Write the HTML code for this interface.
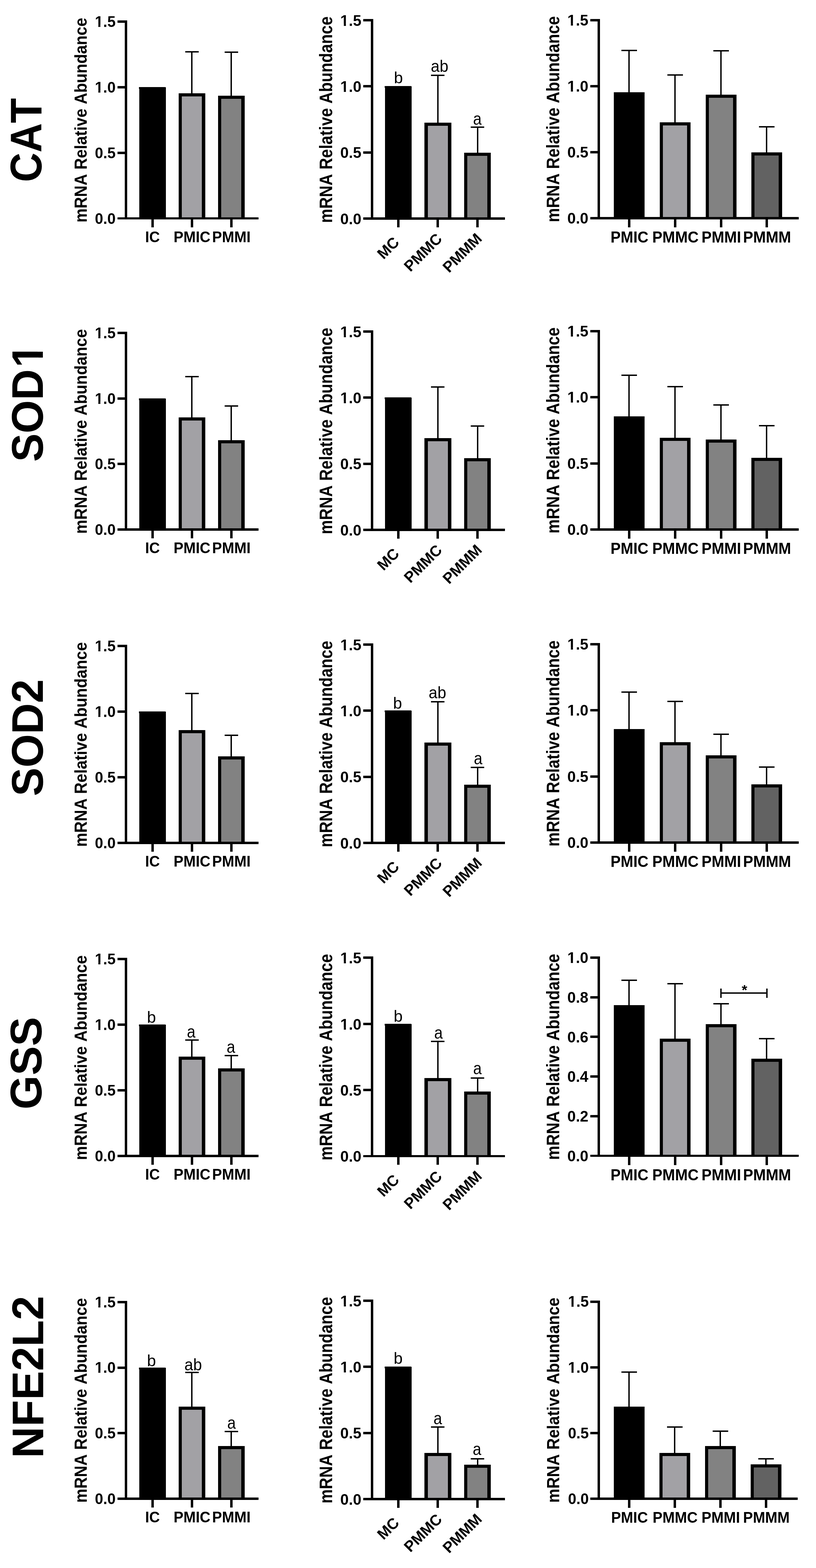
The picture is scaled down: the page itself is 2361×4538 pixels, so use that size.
<!DOCTYPE html>
<html lang="en">
<head>
<meta charset="utf-8">
<title>mRNA Relative Abundance</title>
<style>
html,body{margin:0;padding:0;background:#fff;}
body{width:2361px;height:4538px;overflow:hidden;}
svg{display:block;font-family:"Liberation Sans",sans-serif;fill:#000;font-kerning:none;}
</style>
</head>
<body>
<svg width="2361" height="4538" viewBox="0 0 2361 4538" shape-rendering="crispEdges">
<rect x="0" y="0" width="2361" height="4538" fill="#ffffff"/>
<g>
<rect x="403" y="253" width="77" height="380" fill="#000"/>
<rect x="402" y="252" width="77" height="5" fill="#000"/>
<rect x="553" y="150" width="4" height="122" fill="#000"/>
<rect x="536" y="148" width="39" height="4" fill="#000"/>
<rect x="517" y="270" width="77" height="363" fill="#000"/>
<rect x="526" y="279" width="58" height="354" fill="#a2a1a5"/>
<rect x="667" y="151" width="4" height="128" fill="#000"/>
<rect x="650" y="149" width="39" height="4" fill="#000"/>
<rect x="631" y="277" width="77" height="356" fill="#000"/>
<rect x="640" y="286" width="58" height="347" fill="#828282"/>
<rect x="361" y="59" width="7" height="576" fill="#000"/>
<rect x="340" y="629" width="408" height="6" fill="#000"/>
<rect x="438" y="633" width="7" height="25" fill="#000"/>
<rect x="552" y="633" width="7" height="25" fill="#000"/>
<rect x="666" y="633" width="7" height="25" fill="#000"/>
<text transform="translate(334.5 647.9) scale(0.976 1)" font-size="44.3" font-weight="bold" text-anchor="end">0.0</text>
<rect x="340" y="439" width="25" height="7" fill="#000"/>
<text transform="translate(334.5 457.9) scale(0.976 1)" font-size="44.3" font-weight="bold" text-anchor="end">0.5</text>
<rect x="340" y="249" width="25" height="7" fill="#000"/>
<text transform="translate(334.5 267.9) scale(0.976 1)" font-size="44.3" font-weight="bold" text-anchor="end">1.0</text>
<g transform="translate(334.5 267.9) scale(0.976 1)" fill="#fff" shape-rendering="geometricPrecision"><rect x="-60.79" y="-5.92" width="9.55" height="7.92"/><rect x="-45.17" y="-5.92" width="8.99" height="7.92"/></g>
<rect x="340" y="59" width="25" height="7" fill="#000"/>
<text transform="translate(334.5 77.9) scale(0.976 1)" font-size="44.3" font-weight="bold" text-anchor="end">1.5</text>
<g transform="translate(334.5 77.9) scale(0.976 1)" fill="#fff" shape-rendering="geometricPrecision"><rect x="-60.79" y="-5.92" width="9.55" height="7.92"/><rect x="-45.17" y="-5.92" width="8.99" height="7.92"/></g>
<text transform="translate(441.2 700.7) scale(0.962 1)" font-size="44.3" font-weight="bold" text-anchor="middle">IC</text>
<text transform="translate(555.5 700.7) scale(0.962 1)" font-size="44.3" font-weight="bold" text-anchor="middle">PMIC</text>
<text transform="translate(669.4 700.7) scale(0.962 1)" font-size="44.3" font-weight="bold" text-anchor="middle">PMMI</text>
<text transform="translate(251.2 347.8) rotate(-90) scale(0.927 1)" font-size="49.6" font-weight="bold" text-anchor="middle">mRNA Relative Abundance</text>
</g>
<g>
<rect x="1114" y="250" width="77" height="383" fill="#000"/>
<rect x="1113" y="249" width="77" height="5" fill="#000"/>
<rect x="1265" y="218" width="4" height="139" fill="#000"/>
<rect x="1247" y="216" width="39" height="4" fill="#000"/>
<rect x="1228" y="355" width="78" height="278" fill="#000"/>
<rect x="1238" y="364" width="58" height="269" fill="#a2a1a5"/>
<rect x="1380" y="368" width="4" height="76" fill="#000"/>
<rect x="1362" y="366" width="39" height="4" fill="#000"/>
<rect x="1343" y="442" width="77" height="191" fill="#000"/>
<rect x="1352" y="451" width="58" height="182" fill="#828282"/>
<rect x="1073" y="55" width="7" height="581" fill="#000"/>
<rect x="1051" y="629" width="410" height="7" fill="#000"/>
<rect x="1149" y="633" width="7" height="25" fill="#000"/>
<rect x="1263" y="633" width="7" height="25" fill="#000"/>
<rect x="1378" y="633" width="7" height="25" fill="#000"/>
<text transform="translate(1045.6 648.8) scale(0.976 1)" font-size="44.96" font-weight="bold" text-anchor="end">0.0</text>
<rect x="1051" y="438" width="25" height="7" fill="#000"/>
<text transform="translate(1045.6 457.47) scale(0.976 1)" font-size="44.96" font-weight="bold" text-anchor="end">0.5</text>
<rect x="1051" y="246" width="25" height="7" fill="#000"/>
<text transform="translate(1045.6 266.13) scale(0.976 1)" font-size="44.96" font-weight="bold" text-anchor="end">1.0</text>
<g transform="translate(1045.6 266.13) scale(0.976 1)" fill="#fff" shape-rendering="geometricPrecision"><rect x="-61.67" y="-5.99" width="9.66" height="7.99"/><rect x="-45.84" y="-5.99" width="9.09" height="7.99"/></g>
<rect x="1051" y="55" width="25" height="7" fill="#000"/>
<text transform="translate(1045.6 74.8) scale(0.976 1)" font-size="44.96" font-weight="bold" text-anchor="end">1.5</text>
<g transform="translate(1045.6 74.8) scale(0.976 1)" fill="#fff" shape-rendering="geometricPrecision"><rect x="-61.67" y="-5.99" width="9.66" height="7.99"/><rect x="-45.84" y="-5.99" width="9.09" height="7.99"/></g>
<text transform="translate(1157.9 704.1) rotate(-45) scale(0.986 1)" font-size="44.3" font-weight="bold" text-anchor="end">MC</text>
<text transform="translate(1281.7 694) rotate(-45) scale(0.986 1)" font-size="44.3" font-weight="bold" text-anchor="end">PMMC</text>
<text transform="translate(1397 693.4) rotate(-45) scale(0.986 1)" font-size="44.3" font-weight="bold" text-anchor="end">PMMM</text>
<text transform="translate(961.2 346.3) rotate(-90) scale(0.9077 1)" font-size="51.1" font-weight="bold" text-anchor="middle">mRNA Relative Abundance</text>
<text transform="translate(1152.8 241.3) scale(1 1)" font-size="46.8" font-weight="normal" text-anchor="middle">b</text>
<text transform="translate(1271.9 207.5) scale(0.95 1)" font-size="48" font-weight="normal" text-anchor="middle">ab</text>
<text transform="translate(1381.2 361.3) scale(0.9 1)" font-size="49.5" font-weight="normal" text-anchor="middle">a</text>
</g>
<g>
<rect x="1818" y="146" width="4" height="123" fill="#000"/>
<rect x="1798" y="144" width="45" height="4" fill="#000"/>
<rect x="1776" y="268" width="89" height="364" fill="#000"/>
<rect x="1776" y="267" width="89" height="5" fill="#000"/>
<rect x="1951" y="217" width="4" height="139" fill="#000"/>
<rect x="1931" y="215" width="45" height="4" fill="#000"/>
<rect x="1909" y="354" width="89" height="278" fill="#000"/>
<rect x="1918" y="363" width="70" height="269" fill="#a2a1a5"/>
<rect x="2084" y="147" width="4" height="129" fill="#000"/>
<rect x="2064" y="145" width="45" height="4" fill="#000"/>
<rect x="2042" y="274" width="89" height="358" fill="#000"/>
<rect x="2051" y="283" width="70" height="349" fill="#828282"/>
<rect x="2216" y="367" width="4" height="76" fill="#000"/>
<rect x="2196" y="365" width="45" height="4" fill="#000"/>
<rect x="2174" y="441" width="89" height="191" fill="#000"/>
<rect x="2183" y="450" width="70" height="182" fill="#626262"/>
<rect x="1729" y="55" width="7" height="580" fill="#000"/>
<rect x="1708" y="628" width="603" height="7" fill="#000"/>
<rect x="1817" y="632" width="7" height="26" fill="#000"/>
<rect x="1950" y="632" width="7" height="26" fill="#000"/>
<rect x="2083" y="632" width="7" height="26" fill="#000"/>
<rect x="2215" y="632" width="7" height="26" fill="#000"/>
<text transform="translate(1702.5 647.1) scale(0.976 1)" font-size="44.96" font-weight="bold" text-anchor="end">0.0</text>
<rect x="1708" y="437" width="25" height="7" fill="#000"/>
<text transform="translate(1702.5 455.93) scale(0.976 1)" font-size="44.96" font-weight="bold" text-anchor="end">0.5</text>
<rect x="1708" y="246" width="25" height="7" fill="#000"/>
<text transform="translate(1702.5 264.77) scale(0.976 1)" font-size="44.96" font-weight="bold" text-anchor="end">1.0</text>
<g transform="translate(1702.5 264.77) scale(0.976 1)" fill="#fff" shape-rendering="geometricPrecision"><rect x="-61.67" y="-5.99" width="9.66" height="7.99"/><rect x="-45.84" y="-5.99" width="9.09" height="7.99"/></g>
<rect x="1708" y="55" width="25" height="7" fill="#000"/>
<text transform="translate(1702.5 73.6) scale(0.976 1)" font-size="44.96" font-weight="bold" text-anchor="end">1.5</text>
<g transform="translate(1702.5 73.6) scale(0.976 1)" fill="#fff" shape-rendering="geometricPrecision"><rect x="-61.67" y="-5.99" width="9.66" height="7.99"/><rect x="-45.84" y="-5.99" width="9.09" height="7.99"/></g>
<text transform="translate(1821.4 702.2) scale(0.962 1)" font-size="45.63" font-weight="bold" text-anchor="middle">PMIC</text>
<text transform="translate(1954.4 702.2) scale(0.962 1)" font-size="45.63" font-weight="bold" text-anchor="middle">PMMC</text>
<text transform="translate(2087 702.2) scale(0.962 1)" font-size="45.63" font-weight="bold" text-anchor="middle">PMMI</text>
<text transform="translate(2219.4 702.2) scale(0.962 1)" font-size="45.63" font-weight="bold" text-anchor="middle">PMMM</text>
<text transform="translate(1618.1 345) rotate(-90) scale(0.9074 1)" font-size="51" font-weight="bold" text-anchor="middle">mRNA Relative Abundance</text>
</g>
<g>
<rect x="403" y="1154" width="77" height="379" fill="#000"/>
<rect x="402" y="1153" width="77" height="5" fill="#000"/>
<rect x="553" y="1090" width="4" height="120" fill="#000"/>
<rect x="536" y="1088" width="39" height="4" fill="#000"/>
<rect x="517" y="1208" width="77" height="325" fill="#000"/>
<rect x="526" y="1217" width="58" height="316" fill="#a2a1a5"/>
<rect x="667" y="1175" width="4" height="101" fill="#000"/>
<rect x="650" y="1173" width="39" height="4" fill="#000"/>
<rect x="631" y="1274" width="77" height="259" fill="#000"/>
<rect x="640" y="1283" width="58" height="250" fill="#828282"/>
<rect x="361" y="960" width="7" height="576" fill="#000"/>
<rect x="340" y="1529" width="408" height="7" fill="#000"/>
<rect x="438" y="1533" width="7" height="25" fill="#000"/>
<rect x="552" y="1533" width="7" height="25" fill="#000"/>
<rect x="666" y="1533" width="7" height="25" fill="#000"/>
<text transform="translate(334.5 1547.9) scale(0.976 1)" font-size="44.3" font-weight="bold" text-anchor="end">0.0</text>
<rect x="340" y="1339" width="25" height="7" fill="#000"/>
<text transform="translate(334.5 1358.23) scale(0.976 1)" font-size="44.3" font-weight="bold" text-anchor="end">0.5</text>
<rect x="340" y="1150" width="25" height="7" fill="#000"/>
<text transform="translate(334.5 1168.57) scale(0.976 1)" font-size="44.3" font-weight="bold" text-anchor="end">1.0</text>
<g transform="translate(334.5 1168.57) scale(0.976 1)" fill="#fff" shape-rendering="geometricPrecision"><rect x="-60.79" y="-5.92" width="9.55" height="7.92"/><rect x="-45.17" y="-5.92" width="8.99" height="7.92"/></g>
<rect x="340" y="960" width="25" height="7" fill="#000"/>
<text transform="translate(334.5 978.9) scale(0.976 1)" font-size="44.3" font-weight="bold" text-anchor="end">1.5</text>
<g transform="translate(334.5 978.9) scale(0.976 1)" fill="#fff" shape-rendering="geometricPrecision"><rect x="-60.79" y="-5.92" width="9.55" height="7.92"/><rect x="-45.17" y="-5.92" width="8.99" height="7.92"/></g>
<text transform="translate(441.2 1600.7) scale(0.962 1)" font-size="44.3" font-weight="bold" text-anchor="middle">IC</text>
<text transform="translate(555.5 1600.7) scale(0.962 1)" font-size="44.3" font-weight="bold" text-anchor="middle">PMIC</text>
<text transform="translate(669.4 1600.7) scale(0.962 1)" font-size="44.3" font-weight="bold" text-anchor="middle">PMMI</text>
<text transform="translate(251.2 1248.8) rotate(-90) scale(0.927 1)" font-size="49.6" font-weight="bold" text-anchor="middle">mRNA Relative Abundance</text>
</g>
<g>
<rect x="1114" y="1151" width="77" height="383" fill="#000"/>
<rect x="1113" y="1150" width="77" height="5" fill="#000"/>
<rect x="1265" y="1120" width="4" height="150" fill="#000"/>
<rect x="1247" y="1118" width="39" height="4" fill="#000"/>
<rect x="1228" y="1268" width="78" height="266" fill="#000"/>
<rect x="1238" y="1277" width="58" height="257" fill="#a2a1a5"/>
<rect x="1380" y="1233" width="4" height="95" fill="#000"/>
<rect x="1362" y="1231" width="39" height="4" fill="#000"/>
<rect x="1343" y="1326" width="77" height="208" fill="#000"/>
<rect x="1352" y="1335" width="58" height="199" fill="#828282"/>
<rect x="1073" y="956" width="7" height="581" fill="#000"/>
<rect x="1051" y="1530" width="410" height="7" fill="#000"/>
<rect x="1149" y="1534" width="7" height="25" fill="#000"/>
<rect x="1263" y="1534" width="7" height="25" fill="#000"/>
<rect x="1378" y="1534" width="7" height="25" fill="#000"/>
<text transform="translate(1045.6 1549.8) scale(0.976 1)" font-size="44.96" font-weight="bold" text-anchor="end">0.0</text>
<rect x="1051" y="1339" width="25" height="7" fill="#000"/>
<text transform="translate(1045.6 1358.47) scale(0.976 1)" font-size="44.96" font-weight="bold" text-anchor="end">0.5</text>
<rect x="1051" y="1147" width="25" height="7" fill="#000"/>
<text transform="translate(1045.6 1167.13) scale(0.976 1)" font-size="44.96" font-weight="bold" text-anchor="end">1.0</text>
<g transform="translate(1045.6 1167.13) scale(0.976 1)" fill="#fff" shape-rendering="geometricPrecision"><rect x="-61.67" y="-5.99" width="9.66" height="7.99"/><rect x="-45.84" y="-5.99" width="9.09" height="7.99"/></g>
<rect x="1051" y="956" width="25" height="7" fill="#000"/>
<text transform="translate(1045.6 975.8) scale(0.976 1)" font-size="44.96" font-weight="bold" text-anchor="end">1.5</text>
<g transform="translate(1045.6 975.8) scale(0.976 1)" fill="#fff" shape-rendering="geometricPrecision"><rect x="-61.67" y="-5.99" width="9.66" height="7.99"/><rect x="-45.84" y="-5.99" width="9.09" height="7.99"/></g>
<text transform="translate(1157.9 1605.1) rotate(-45) scale(0.986 1)" font-size="44.3" font-weight="bold" text-anchor="end">MC</text>
<text transform="translate(1281.7 1595) rotate(-45) scale(0.986 1)" font-size="44.3" font-weight="bold" text-anchor="end">PMMC</text>
<text transform="translate(1397 1594.4) rotate(-45) scale(0.986 1)" font-size="44.3" font-weight="bold" text-anchor="end">PMMM</text>
<text transform="translate(961.2 1247.3) rotate(-90) scale(0.9077 1)" font-size="51.1" font-weight="bold" text-anchor="middle">mRNA Relative Abundance</text>
</g>
<g>
<rect x="1818" y="1086" width="4" height="121" fill="#000"/>
<rect x="1798" y="1084" width="45" height="4" fill="#000"/>
<rect x="1776" y="1206" width="89" height="327" fill="#000"/>
<rect x="1776" y="1205" width="89" height="5" fill="#000"/>
<rect x="1951" y="1119" width="4" height="150" fill="#000"/>
<rect x="1931" y="1117" width="45" height="4" fill="#000"/>
<rect x="1909" y="1267" width="89" height="266" fill="#000"/>
<rect x="1918" y="1276" width="70" height="257" fill="#a2a1a5"/>
<rect x="2084" y="1172" width="4" height="102" fill="#000"/>
<rect x="2064" y="1170" width="45" height="4" fill="#000"/>
<rect x="2042" y="1272" width="89" height="261" fill="#000"/>
<rect x="2051" y="1281" width="70" height="252" fill="#828282"/>
<rect x="2216" y="1232" width="4" height="95" fill="#000"/>
<rect x="2196" y="1230" width="45" height="4" fill="#000"/>
<rect x="2174" y="1325" width="89" height="208" fill="#000"/>
<rect x="2183" y="1334" width="70" height="199" fill="#626262"/>
<rect x="1729" y="955" width="7" height="581" fill="#000"/>
<rect x="1708" y="1529" width="603" height="7" fill="#000"/>
<rect x="1817" y="1533" width="7" height="26" fill="#000"/>
<rect x="1950" y="1533" width="7" height="26" fill="#000"/>
<rect x="2083" y="1533" width="7" height="26" fill="#000"/>
<rect x="2215" y="1533" width="7" height="26" fill="#000"/>
<text transform="translate(1702.5 1548.1) scale(0.976 1)" font-size="44.96" font-weight="bold" text-anchor="end">0.0</text>
<rect x="1708" y="1338" width="25" height="7" fill="#000"/>
<text transform="translate(1702.5 1356.77) scale(0.976 1)" font-size="44.96" font-weight="bold" text-anchor="end">0.5</text>
<rect x="1708" y="1146" width="25" height="7" fill="#000"/>
<text transform="translate(1702.5 1165.43) scale(0.976 1)" font-size="44.96" font-weight="bold" text-anchor="end">1.0</text>
<g transform="translate(1702.5 1165.43) scale(0.976 1)" fill="#fff" shape-rendering="geometricPrecision"><rect x="-61.67" y="-5.99" width="9.66" height="7.99"/><rect x="-45.84" y="-5.99" width="9.09" height="7.99"/></g>
<rect x="1708" y="955" width="25" height="7" fill="#000"/>
<text transform="translate(1702.5 974.1) scale(0.976 1)" font-size="44.96" font-weight="bold" text-anchor="end">1.5</text>
<g transform="translate(1702.5 974.1) scale(0.976 1)" fill="#fff" shape-rendering="geometricPrecision"><rect x="-61.67" y="-5.99" width="9.66" height="7.99"/><rect x="-45.84" y="-5.99" width="9.09" height="7.99"/></g>
<text transform="translate(1821.4 1603.2) scale(0.962 1)" font-size="45.63" font-weight="bold" text-anchor="middle">PMIC</text>
<text transform="translate(1954.4 1603.2) scale(0.962 1)" font-size="45.63" font-weight="bold" text-anchor="middle">PMMC</text>
<text transform="translate(2087 1603.2) scale(0.962 1)" font-size="45.63" font-weight="bold" text-anchor="middle">PMMI</text>
<text transform="translate(2219.4 1603.2) scale(0.962 1)" font-size="45.63" font-weight="bold" text-anchor="middle">PMMM</text>
<text transform="translate(1618.1 1245.75) rotate(-90) scale(0.9074 1)" font-size="51" font-weight="bold" text-anchor="middle">mRNA Relative Abundance</text>
</g>
<g>
<rect x="403" y="2060" width="77" height="380" fill="#000"/>
<rect x="402" y="2059" width="77" height="5" fill="#000"/>
<rect x="553" y="2007" width="4" height="108" fill="#000"/>
<rect x="536" y="2005" width="39" height="4" fill="#000"/>
<rect x="517" y="2113" width="77" height="327" fill="#000"/>
<rect x="526" y="2122" width="58" height="318" fill="#a2a1a5"/>
<rect x="667" y="2128" width="4" height="63" fill="#000"/>
<rect x="650" y="2126" width="39" height="4" fill="#000"/>
<rect x="631" y="2189" width="77" height="251" fill="#000"/>
<rect x="640" y="2198" width="58" height="242" fill="#828282"/>
<rect x="361" y="1866" width="7" height="577" fill="#000"/>
<rect x="340" y="2436" width="408" height="7" fill="#000"/>
<rect x="438" y="2440" width="7" height="25" fill="#000"/>
<rect x="552" y="2440" width="7" height="25" fill="#000"/>
<rect x="666" y="2440" width="7" height="25" fill="#000"/>
<text transform="translate(334.5 2454.9) scale(0.976 1)" font-size="44.3" font-weight="bold" text-anchor="end">0.0</text>
<rect x="340" y="2246" width="25" height="7" fill="#000"/>
<text transform="translate(334.5 2264.9) scale(0.976 1)" font-size="44.3" font-weight="bold" text-anchor="end">0.5</text>
<rect x="340" y="2056" width="25" height="7" fill="#000"/>
<text transform="translate(334.5 2074.9) scale(0.976 1)" font-size="44.3" font-weight="bold" text-anchor="end">1.0</text>
<g transform="translate(334.5 2074.9) scale(0.976 1)" fill="#fff" shape-rendering="geometricPrecision"><rect x="-60.79" y="-5.92" width="9.55" height="7.92"/><rect x="-45.17" y="-5.92" width="8.99" height="7.92"/></g>
<rect x="340" y="1866" width="25" height="7" fill="#000"/>
<text transform="translate(334.5 1884.9) scale(0.976 1)" font-size="44.3" font-weight="bold" text-anchor="end">1.5</text>
<g transform="translate(334.5 1884.9) scale(0.976 1)" fill="#fff" shape-rendering="geometricPrecision"><rect x="-60.79" y="-5.92" width="9.55" height="7.92"/><rect x="-45.17" y="-5.92" width="8.99" height="7.92"/></g>
<text transform="translate(441.2 2507.7) scale(0.962 1)" font-size="44.3" font-weight="bold" text-anchor="middle">IC</text>
<text transform="translate(555.5 2507.7) scale(0.962 1)" font-size="44.3" font-weight="bold" text-anchor="middle">PMIC</text>
<text transform="translate(669.4 2507.7) scale(0.962 1)" font-size="44.3" font-weight="bold" text-anchor="middle">PMMI</text>
<text transform="translate(251.2 2154.8) rotate(-90) scale(0.927 1)" font-size="49.6" font-weight="bold" text-anchor="middle">mRNA Relative Abundance</text>
</g>
<g>
<rect x="1114" y="2057" width="77" height="383" fill="#000"/>
<rect x="1113" y="2056" width="77" height="5" fill="#000"/>
<rect x="1265" y="2031" width="4" height="120" fill="#000"/>
<rect x="1247" y="2029" width="39" height="4" fill="#000"/>
<rect x="1228" y="2149" width="78" height="291" fill="#000"/>
<rect x="1238" y="2158" width="58" height="282" fill="#a2a1a5"/>
<rect x="1380" y="2221" width="4" height="52" fill="#000"/>
<rect x="1362" y="2219" width="39" height="4" fill="#000"/>
<rect x="1343" y="2271" width="77" height="169" fill="#000"/>
<rect x="1352" y="2280" width="58" height="160" fill="#828282"/>
<rect x="1073" y="1862" width="7" height="581" fill="#000"/>
<rect x="1051" y="2436" width="410" height="7" fill="#000"/>
<rect x="1149" y="2440" width="7" height="25" fill="#000"/>
<rect x="1263" y="2440" width="7" height="25" fill="#000"/>
<rect x="1378" y="2440" width="7" height="25" fill="#000"/>
<text transform="translate(1045.6 2455.8) scale(0.976 1)" font-size="44.96" font-weight="bold" text-anchor="end">0.0</text>
<rect x="1051" y="2245" width="25" height="7" fill="#000"/>
<text transform="translate(1045.6 2264.47) scale(0.976 1)" font-size="44.96" font-weight="bold" text-anchor="end">0.5</text>
<rect x="1051" y="2053" width="25" height="7" fill="#000"/>
<text transform="translate(1045.6 2073.13) scale(0.976 1)" font-size="44.96" font-weight="bold" text-anchor="end">1.0</text>
<g transform="translate(1045.6 2073.13) scale(0.976 1)" fill="#fff" shape-rendering="geometricPrecision"><rect x="-61.67" y="-5.99" width="9.66" height="7.99"/><rect x="-45.84" y="-5.99" width="9.09" height="7.99"/></g>
<rect x="1051" y="1862" width="25" height="7" fill="#000"/>
<text transform="translate(1045.6 1881.8) scale(0.976 1)" font-size="44.96" font-weight="bold" text-anchor="end">1.5</text>
<g transform="translate(1045.6 1881.8) scale(0.976 1)" fill="#fff" shape-rendering="geometricPrecision"><rect x="-61.67" y="-5.99" width="9.66" height="7.99"/><rect x="-45.84" y="-5.99" width="9.09" height="7.99"/></g>
<text transform="translate(1157.9 2511.1) rotate(-45) scale(0.986 1)" font-size="44.3" font-weight="bold" text-anchor="end">MC</text>
<text transform="translate(1281.7 2501) rotate(-45) scale(0.986 1)" font-size="44.3" font-weight="bold" text-anchor="end">PMMC</text>
<text transform="translate(1397 2500.4) rotate(-45) scale(0.986 1)" font-size="44.3" font-weight="bold" text-anchor="end">PMMM</text>
<text transform="translate(961.2 2153.3) rotate(-90) scale(0.9077 1)" font-size="51.1" font-weight="bold" text-anchor="middle">mRNA Relative Abundance</text>
<text transform="translate(1150.3 2051.1) scale(1 1)" font-size="46.8" font-weight="normal" text-anchor="middle">b</text>
<text transform="translate(1265.7 2020.5) scale(0.95 1)" font-size="48" font-weight="normal" text-anchor="middle">ab</text>
<text transform="translate(1383.3 2211.5) scale(0.9 1)" font-size="49.5" font-weight="normal" text-anchor="middle">a</text>
</g>
<g>
<rect x="1818" y="2003" width="4" height="109" fill="#000"/>
<rect x="1798" y="2001" width="45" height="4" fill="#000"/>
<rect x="1776" y="2111" width="89" height="328" fill="#000"/>
<rect x="1776" y="2110" width="89" height="5" fill="#000"/>
<rect x="1951" y="2030" width="4" height="120" fill="#000"/>
<rect x="1931" y="2028" width="45" height="4" fill="#000"/>
<rect x="1909" y="2148" width="89" height="291" fill="#000"/>
<rect x="1918" y="2157" width="70" height="282" fill="#a2a1a5"/>
<rect x="2084" y="2125" width="4" height="63" fill="#000"/>
<rect x="2064" y="2123" width="45" height="4" fill="#000"/>
<rect x="2042" y="2186" width="89" height="253" fill="#000"/>
<rect x="2051" y="2195" width="70" height="244" fill="#828282"/>
<rect x="2216" y="2220" width="4" height="52" fill="#000"/>
<rect x="2196" y="2218" width="45" height="4" fill="#000"/>
<rect x="2174" y="2270" width="89" height="169" fill="#000"/>
<rect x="2183" y="2279" width="70" height="160" fill="#626262"/>
<rect x="1729" y="1861" width="7" height="581" fill="#000"/>
<rect x="1708" y="2435" width="603" height="7" fill="#000"/>
<rect x="1817" y="2439" width="7" height="26" fill="#000"/>
<rect x="1950" y="2439" width="7" height="26" fill="#000"/>
<rect x="2083" y="2439" width="7" height="26" fill="#000"/>
<rect x="2215" y="2439" width="7" height="26" fill="#000"/>
<text transform="translate(1702.5 2454.1) scale(0.976 1)" font-size="44.96" font-weight="bold" text-anchor="end">0.0</text>
<rect x="1708" y="2244" width="25" height="7" fill="#000"/>
<text transform="translate(1702.5 2262.77) scale(0.976 1)" font-size="44.96" font-weight="bold" text-anchor="end">0.5</text>
<rect x="1708" y="2052" width="25" height="7" fill="#000"/>
<text transform="translate(1702.5 2071.43) scale(0.976 1)" font-size="44.96" font-weight="bold" text-anchor="end">1.0</text>
<g transform="translate(1702.5 2071.43) scale(0.976 1)" fill="#fff" shape-rendering="geometricPrecision"><rect x="-61.67" y="-5.99" width="9.66" height="7.99"/><rect x="-45.84" y="-5.99" width="9.09" height="7.99"/></g>
<rect x="1708" y="1861" width="25" height="7" fill="#000"/>
<text transform="translate(1702.5 1880.1) scale(0.976 1)" font-size="44.96" font-weight="bold" text-anchor="end">1.5</text>
<g transform="translate(1702.5 1880.1) scale(0.976 1)" fill="#fff" shape-rendering="geometricPrecision"><rect x="-61.67" y="-5.99" width="9.66" height="7.99"/><rect x="-45.84" y="-5.99" width="9.09" height="7.99"/></g>
<text transform="translate(1821.4 2509.2) scale(0.962 1)" font-size="45.63" font-weight="bold" text-anchor="middle">PMIC</text>
<text transform="translate(1954.4 2509.2) scale(0.962 1)" font-size="45.63" font-weight="bold" text-anchor="middle">PMMC</text>
<text transform="translate(2087 2509.2) scale(0.962 1)" font-size="45.63" font-weight="bold" text-anchor="middle">PMMI</text>
<text transform="translate(2219.4 2509.2) scale(0.962 1)" font-size="45.63" font-weight="bold" text-anchor="middle">PMMM</text>
<text transform="translate(1618.1 2151.75) rotate(-90) scale(0.9074 1)" font-size="51" font-weight="bold" text-anchor="middle">mRNA Relative Abundance</text>
</g>
<g>
<rect x="403" y="2966" width="77" height="380" fill="#000"/>
<rect x="402" y="2965" width="77" height="5" fill="#000"/>
<rect x="553" y="3010" width="4" height="50" fill="#000"/>
<rect x="536" y="3008" width="39" height="4" fill="#000"/>
<rect x="517" y="3058" width="77" height="288" fill="#000"/>
<rect x="526" y="3067" width="58" height="279" fill="#a2a1a5"/>
<rect x="667" y="3055" width="4" height="39" fill="#000"/>
<rect x="650" y="3053" width="39" height="4" fill="#000"/>
<rect x="631" y="3092" width="77" height="254" fill="#000"/>
<rect x="640" y="3101" width="58" height="245" fill="#828282"/>
<rect x="361" y="2772" width="7" height="577" fill="#000"/>
<rect x="340" y="3342" width="408" height="7" fill="#000"/>
<rect x="438" y="3346" width="7" height="25" fill="#000"/>
<rect x="552" y="3346" width="7" height="25" fill="#000"/>
<rect x="666" y="3346" width="7" height="25" fill="#000"/>
<text transform="translate(334.5 3361.2) scale(0.976 1)" font-size="44.3" font-weight="bold" text-anchor="end">0.0</text>
<rect x="340" y="3152" width="25" height="7" fill="#000"/>
<text transform="translate(334.5 3171.2) scale(0.976 1)" font-size="44.3" font-weight="bold" text-anchor="end">0.5</text>
<rect x="340" y="2962" width="25" height="7" fill="#000"/>
<text transform="translate(334.5 2981.2) scale(0.976 1)" font-size="44.3" font-weight="bold" text-anchor="end">1.0</text>
<g transform="translate(334.5 2981.2) scale(0.976 1)" fill="#fff" shape-rendering="geometricPrecision"><rect x="-60.79" y="-5.92" width="9.55" height="7.92"/><rect x="-45.17" y="-5.92" width="8.99" height="7.92"/></g>
<rect x="340" y="2772" width="25" height="7" fill="#000"/>
<text transform="translate(334.5 2791.2) scale(0.976 1)" font-size="44.3" font-weight="bold" text-anchor="end">1.5</text>
<g transform="translate(334.5 2791.2) scale(0.976 1)" fill="#fff" shape-rendering="geometricPrecision"><rect x="-60.79" y="-5.92" width="9.55" height="7.92"/><rect x="-45.17" y="-5.92" width="8.99" height="7.92"/></g>
<text transform="translate(441.2 3414) scale(0.962 1)" font-size="44.3" font-weight="bold" text-anchor="middle">IC</text>
<text transform="translate(555.5 3414) scale(0.962 1)" font-size="44.3" font-weight="bold" text-anchor="middle">PMIC</text>
<text transform="translate(669.4 3414) scale(0.962 1)" font-size="44.3" font-weight="bold" text-anchor="middle">PMMI</text>
<text transform="translate(251.2 3061.1) rotate(-90) scale(0.927 1)" font-size="49.6" font-weight="bold" text-anchor="middle">mRNA Relative Abundance</text>
<text transform="translate(438.2 2960) scale(1 1)" font-size="46.8" font-weight="normal" text-anchor="middle">b</text>
<text transform="translate(553.1 3003) scale(0.9 1)" font-size="49.5" font-weight="normal" text-anchor="middle">a</text>
<text transform="translate(668.2 3046.8) scale(0.9 1)" font-size="49.5" font-weight="normal" text-anchor="middle">a</text>
</g>
<g>
<rect x="1114" y="2964" width="77" height="382" fill="#000"/>
<rect x="1113" y="2963" width="77" height="5" fill="#000"/>
<rect x="1265" y="3014" width="4" height="108" fill="#000"/>
<rect x="1247" y="3012" width="39" height="4" fill="#000"/>
<rect x="1228" y="3120" width="78" height="226" fill="#000"/>
<rect x="1238" y="3129" width="58" height="217" fill="#a2a1a5"/>
<rect x="1380" y="3120" width="4" height="41" fill="#000"/>
<rect x="1362" y="3118" width="39" height="4" fill="#000"/>
<rect x="1343" y="3159" width="77" height="187" fill="#000"/>
<rect x="1352" y="3168" width="58" height="178" fill="#828282"/>
<rect x="1073" y="2768" width="7" height="581" fill="#000"/>
<rect x="1051" y="3343" width="410" height="6" fill="#000"/>
<rect x="1149" y="3346" width="7" height="25" fill="#000"/>
<rect x="1263" y="3346" width="7" height="25" fill="#000"/>
<rect x="1378" y="3346" width="7" height="25" fill="#000"/>
<text transform="translate(1045.6 3362.3) scale(0.976 1)" font-size="44.96" font-weight="bold" text-anchor="end">0.0</text>
<rect x="1051" y="3151" width="25" height="7" fill="#000"/>
<text transform="translate(1045.6 3170.9) scale(0.976 1)" font-size="44.96" font-weight="bold" text-anchor="end">0.5</text>
<rect x="1051" y="2960" width="25" height="7" fill="#000"/>
<text transform="translate(1045.6 2979.5) scale(0.976 1)" font-size="44.96" font-weight="bold" text-anchor="end">1.0</text>
<g transform="translate(1045.6 2979.5) scale(0.976 1)" fill="#fff" shape-rendering="geometricPrecision"><rect x="-61.67" y="-5.99" width="9.66" height="7.99"/><rect x="-45.84" y="-5.99" width="9.09" height="7.99"/></g>
<rect x="1051" y="2768" width="25" height="7" fill="#000"/>
<text transform="translate(1045.6 2788.1) scale(0.976 1)" font-size="44.96" font-weight="bold" text-anchor="end">1.5</text>
<g transform="translate(1045.6 2788.1) scale(0.976 1)" fill="#fff" shape-rendering="geometricPrecision"><rect x="-61.67" y="-5.99" width="9.66" height="7.99"/><rect x="-45.84" y="-5.99" width="9.09" height="7.99"/></g>
<text transform="translate(1157.9 3417.6) rotate(-45) scale(0.986 1)" font-size="44.3" font-weight="bold" text-anchor="end">MC</text>
<text transform="translate(1281.7 3407.5) rotate(-45) scale(0.986 1)" font-size="44.3" font-weight="bold" text-anchor="end">PMMC</text>
<text transform="translate(1397 3406.9) rotate(-45) scale(0.986 1)" font-size="44.3" font-weight="bold" text-anchor="end">PMMM</text>
<text transform="translate(961.2 3059.7) rotate(-90) scale(0.9077 1)" font-size="51.1" font-weight="bold" text-anchor="middle">mRNA Relative Abundance</text>
<text transform="translate(1151.9 2957.3) scale(1 1)" font-size="46.8" font-weight="normal" text-anchor="middle">b</text>
<text transform="translate(1268.6 3005.7) scale(0.9 1)" font-size="49.5" font-weight="normal" text-anchor="middle">a</text>
<text transform="translate(1381.3 3109.2) scale(0.9 1)" font-size="49.5" font-weight="normal" text-anchor="middle">a</text>
</g>
<g>
<rect x="1818" y="2837" width="4" height="74" fill="#000"/>
<rect x="1798" y="2835" width="45" height="4" fill="#000"/>
<rect x="1776" y="2910" width="89" height="436" fill="#000"/>
<rect x="1776" y="2909" width="89" height="5" fill="#000"/>
<rect x="1951" y="2847" width="4" height="161" fill="#000"/>
<rect x="1931" y="2845" width="45" height="4" fill="#000"/>
<rect x="1909" y="3006" width="89" height="340" fill="#000"/>
<rect x="1918" y="3015" width="70" height="331" fill="#a2a1a5"/>
<rect x="2084" y="2905" width="4" height="61" fill="#000"/>
<rect x="2064" y="2903" width="45" height="4" fill="#000"/>
<rect x="2042" y="2964" width="89" height="382" fill="#000"/>
<rect x="2051" y="2973" width="70" height="373" fill="#828282"/>
<rect x="2216" y="3006" width="4" height="60" fill="#000"/>
<rect x="2196" y="3004" width="45" height="4" fill="#000"/>
<rect x="2174" y="3064" width="89" height="282" fill="#000"/>
<rect x="2183" y="3073" width="70" height="273" fill="#626262"/>
<rect x="1729" y="2768" width="7" height="580" fill="#000"/>
<rect x="1708" y="3342" width="603" height="6" fill="#000"/>
<rect x="1817" y="3346" width="7" height="26" fill="#000"/>
<rect x="1950" y="3346" width="7" height="26" fill="#000"/>
<rect x="2083" y="3346" width="7" height="26" fill="#000"/>
<rect x="2215" y="3346" width="7" height="26" fill="#000"/>
<text transform="translate(1702.5 3361.1) scale(0.976 1)" font-size="44.96" font-weight="bold" text-anchor="end">0.0</text>
<rect x="1708" y="3227" width="25" height="7" fill="#000"/>
<text transform="translate(1702.5 3246.26) scale(0.976 1)" font-size="44.96" font-weight="bold" text-anchor="end">0.2</text>
<rect x="1708" y="3112" width="25" height="7" fill="#000"/>
<text transform="translate(1702.5 3131.42) scale(0.976 1)" font-size="44.96" font-weight="bold" text-anchor="end">0.4</text>
<rect x="1708" y="2997" width="25" height="7" fill="#000"/>
<text transform="translate(1702.5 3016.58) scale(0.976 1)" font-size="44.96" font-weight="bold" text-anchor="end">0.6</text>
<rect x="1708" y="2883" width="25" height="7" fill="#000"/>
<text transform="translate(1702.5 2901.74) scale(0.976 1)" font-size="44.96" font-weight="bold" text-anchor="end">0.8</text>
<rect x="1708" y="2768" width="25" height="7" fill="#000"/>
<text transform="translate(1702.5 2786.9) scale(0.976 1)" font-size="44.96" font-weight="bold" text-anchor="end">1.0</text>
<g transform="translate(1702.5 2786.9) scale(0.976 1)" fill="#fff" shape-rendering="geometricPrecision"><rect x="-61.67" y="-5.99" width="9.66" height="7.99"/><rect x="-45.84" y="-5.99" width="9.09" height="7.99"/></g>
<text transform="translate(1821.4 3416.2) scale(0.962 1)" font-size="45.63" font-weight="bold" text-anchor="middle">PMIC</text>
<text transform="translate(1954.4 3416.2) scale(0.962 1)" font-size="45.63" font-weight="bold" text-anchor="middle">PMMC</text>
<text transform="translate(2087 3416.2) scale(0.962 1)" font-size="45.63" font-weight="bold" text-anchor="middle">PMMI</text>
<text transform="translate(2219.4 3416.2) scale(0.962 1)" font-size="45.63" font-weight="bold" text-anchor="middle">PMMM</text>
<text transform="translate(1618.1 3058.65) rotate(-90) scale(0.9074 1)" font-size="51" font-weight="bold" text-anchor="middle">mRNA Relative Abundance</text>
<text transform="translate(2154.2 2879.2) scale(1.04 1)" font-size="40" font-weight="bold" text-anchor="middle">*</text>
<rect x="2086" y="2872" width="133" height="4" fill="#000"/>
<rect x="2084" y="2861" width="4" height="27" fill="#000"/>
<rect x="2217" y="2861" width="4" height="27" fill="#000"/>
</g>
<g>
<rect x="403" y="3959" width="77" height="379" fill="#000"/>
<rect x="402" y="3958" width="77" height="5" fill="#000"/>
<rect x="553" y="3972" width="4" height="101" fill="#000"/>
<rect x="536" y="3970" width="39" height="4" fill="#000"/>
<rect x="517" y="4071" width="77" height="267" fill="#000"/>
<rect x="526" y="4080" width="58" height="258" fill="#a2a1a5"/>
<rect x="667" y="4143" width="4" height="44" fill="#000"/>
<rect x="650" y="4141" width="39" height="4" fill="#000"/>
<rect x="631" y="4185" width="77" height="153" fill="#000"/>
<rect x="640" y="4194" width="58" height="144" fill="#828282"/>
<rect x="361" y="3765" width="7" height="576" fill="#000"/>
<rect x="340" y="4334" width="408" height="7" fill="#000"/>
<rect x="438" y="4338" width="7" height="25" fill="#000"/>
<rect x="552" y="4338" width="7" height="25" fill="#000"/>
<rect x="666" y="4338" width="7" height="25" fill="#000"/>
<text transform="translate(334.5 4352.9) scale(0.976 1)" font-size="44.3" font-weight="bold" text-anchor="end">0.0</text>
<rect x="340" y="4144" width="25" height="7" fill="#000"/>
<text transform="translate(334.5 4163.15) scale(0.976 1)" font-size="44.3" font-weight="bold" text-anchor="end">0.5</text>
<rect x="340" y="3955" width="25" height="7" fill="#000"/>
<text transform="translate(334.5 3973.4) scale(0.976 1)" font-size="44.3" font-weight="bold" text-anchor="end">1.0</text>
<g transform="translate(334.5 3973.4) scale(0.976 1)" fill="#fff" shape-rendering="geometricPrecision"><rect x="-60.79" y="-5.92" width="9.55" height="7.92"/><rect x="-45.17" y="-5.92" width="8.99" height="7.92"/></g>
<rect x="340" y="3765" width="25" height="7" fill="#000"/>
<text transform="translate(334.5 3783.65) scale(0.976 1)" font-size="44.3" font-weight="bold" text-anchor="end">1.5</text>
<g transform="translate(334.5 3783.65) scale(0.976 1)" fill="#fff" shape-rendering="geometricPrecision"><rect x="-60.79" y="-5.92" width="9.55" height="7.92"/><rect x="-45.17" y="-5.92" width="8.99" height="7.92"/></g>
<text transform="translate(441.2 4405.7) scale(0.962 1)" font-size="44.3" font-weight="bold" text-anchor="middle">IC</text>
<text transform="translate(555.5 4405.7) scale(0.962 1)" font-size="44.3" font-weight="bold" text-anchor="middle">PMIC</text>
<text transform="translate(669.4 4405.7) scale(0.962 1)" font-size="44.3" font-weight="bold" text-anchor="middle">PMMI</text>
<text transform="translate(251.2 4052.88) rotate(-90) scale(0.927 1)" font-size="49.6" font-weight="bold" text-anchor="middle">mRNA Relative Abundance</text>
<text transform="translate(438.2 3953.5) scale(1 1)" font-size="46.8" font-weight="normal" text-anchor="middle">b</text>
<text transform="translate(558.9 3966) scale(0.95 1)" font-size="48" font-weight="normal" text-anchor="middle">ab</text>
<text transform="translate(670 4135) scale(0.9 1)" font-size="49.5" font-weight="normal" text-anchor="middle">a</text>
</g>
<g>
<rect x="1114" y="3956" width="77" height="383" fill="#000"/>
<rect x="1113" y="3955" width="77" height="5" fill="#000"/>
<rect x="1265" y="4130" width="4" height="77" fill="#000"/>
<rect x="1247" y="4128" width="39" height="4" fill="#000"/>
<rect x="1228" y="4205" width="78" height="134" fill="#000"/>
<rect x="1238" y="4214" width="58" height="125" fill="#a2a1a5"/>
<rect x="1380" y="4222" width="4" height="19" fill="#000"/>
<rect x="1362" y="4220" width="39" height="4" fill="#000"/>
<rect x="1343" y="4239" width="77" height="100" fill="#000"/>
<rect x="1352" y="4248" width="58" height="91" fill="#828282"/>
<rect x="1073" y="3761" width="7" height="581" fill="#000"/>
<rect x="1051" y="4335" width="410" height="7" fill="#000"/>
<rect x="1149" y="4339" width="7" height="25" fill="#000"/>
<rect x="1263" y="4339" width="7" height="25" fill="#000"/>
<rect x="1378" y="4339" width="7" height="25" fill="#000"/>
<text transform="translate(1045.6 4354.8) scale(0.976 1)" font-size="44.96" font-weight="bold" text-anchor="end">0.0</text>
<rect x="1051" y="4144" width="25" height="7" fill="#000"/>
<text transform="translate(1045.6 4163.47) scale(0.976 1)" font-size="44.96" font-weight="bold" text-anchor="end">0.5</text>
<rect x="1051" y="3952" width="25" height="7" fill="#000"/>
<text transform="translate(1045.6 3972.13) scale(0.976 1)" font-size="44.96" font-weight="bold" text-anchor="end">1.0</text>
<g transform="translate(1045.6 3972.13) scale(0.976 1)" fill="#fff" shape-rendering="geometricPrecision"><rect x="-61.67" y="-5.99" width="9.66" height="7.99"/><rect x="-45.84" y="-5.99" width="9.09" height="7.99"/></g>
<rect x="1051" y="3761" width="25" height="7" fill="#000"/>
<text transform="translate(1045.6 3780.8) scale(0.976 1)" font-size="44.96" font-weight="bold" text-anchor="end">1.5</text>
<g transform="translate(1045.6 3780.8) scale(0.976 1)" fill="#fff" shape-rendering="geometricPrecision"><rect x="-61.67" y="-5.99" width="9.66" height="7.99"/><rect x="-45.84" y="-5.99" width="9.09" height="7.99"/></g>
<text transform="translate(1157.9 4410.1) rotate(-45) scale(0.986 1)" font-size="44.3" font-weight="bold" text-anchor="end">MC</text>
<text transform="translate(1281.7 4400) rotate(-45) scale(0.986 1)" font-size="44.3" font-weight="bold" text-anchor="end">PMMC</text>
<text transform="translate(1397 4399.4) rotate(-45) scale(0.986 1)" font-size="44.3" font-weight="bold" text-anchor="end">PMMM</text>
<text transform="translate(961.2 4052.3) rotate(-90) scale(0.9077 1)" font-size="51.1" font-weight="bold" text-anchor="middle">mRNA Relative Abundance</text>
<text transform="translate(1151.9 3947.1) scale(1 1)" font-size="46.8" font-weight="normal" text-anchor="middle">b</text>
<text transform="translate(1266.6 4122) scale(0.9 1)" font-size="49.5" font-weight="normal" text-anchor="middle">a</text>
<text transform="translate(1380.1 4211.3) scale(0.9 1)" font-size="49.5" font-weight="normal" text-anchor="middle">a</text>
</g>
<g>
<rect x="1818" y="3971" width="4" height="102" fill="#000"/>
<rect x="1798" y="3969" width="45" height="4" fill="#000"/>
<rect x="1776" y="4072" width="89" height="266" fill="#000"/>
<rect x="1776" y="4071" width="89" height="5" fill="#000"/>
<rect x="1950" y="4130" width="4" height="77" fill="#000"/>
<rect x="1930" y="4128" width="45" height="4" fill="#000"/>
<rect x="1908" y="4205" width="89" height="133" fill="#000"/>
<rect x="1917" y="4214" width="70" height="124" fill="#a2a1a5"/>
<rect x="2082" y="4142" width="4" height="45" fill="#000"/>
<rect x="2062" y="4140" width="45" height="4" fill="#000"/>
<rect x="2040" y="4185" width="89" height="153" fill="#000"/>
<rect x="2049" y="4194" width="70" height="144" fill="#828282"/>
<rect x="2214" y="4222" width="4" height="18" fill="#000"/>
<rect x="2194" y="4220" width="45" height="4" fill="#000"/>
<rect x="2172" y="4238" width="89" height="100" fill="#000"/>
<rect x="2181" y="4247" width="70" height="91" fill="#626262"/>
<rect x="1729" y="3764" width="7" height="577" fill="#000"/>
<rect x="1708" y="4334" width="600" height="7" fill="#000"/>
<rect x="1817" y="4338" width="7" height="26" fill="#000"/>
<rect x="1949" y="4338" width="7" height="26" fill="#000"/>
<rect x="2081" y="4338" width="7" height="26" fill="#000"/>
<rect x="2213" y="4338" width="7" height="26" fill="#000"/>
<text transform="translate(1703.6 4352.9) scale(0.976 1)" font-size="44.3" font-weight="bold" text-anchor="end">0.0</text>
<rect x="1708" y="4144" width="25" height="7" fill="#000"/>
<text transform="translate(1703.6 4162.73) scale(0.976 1)" font-size="44.3" font-weight="bold" text-anchor="end">0.5</text>
<rect x="1708" y="3954" width="25" height="7" fill="#000"/>
<text transform="translate(1703.6 3972.57) scale(0.976 1)" font-size="44.3" font-weight="bold" text-anchor="end">1.0</text>
<g transform="translate(1703.6 3972.57) scale(0.976 1)" fill="#fff" shape-rendering="geometricPrecision"><rect x="-60.79" y="-5.92" width="9.55" height="7.92"/><rect x="-45.17" y="-5.92" width="8.99" height="7.92"/></g>
<rect x="1708" y="3764" width="25" height="7" fill="#000"/>
<text transform="translate(1703.6 3782.4) scale(0.976 1)" font-size="44.3" font-weight="bold" text-anchor="end">1.5</text>
<g transform="translate(1703.6 3782.4) scale(0.976 1)" fill="#fff" shape-rendering="geometricPrecision"><rect x="-60.79" y="-5.92" width="9.55" height="7.92"/><rect x="-45.17" y="-5.92" width="8.99" height="7.92"/></g>
<text transform="translate(1821.4 4407.3) scale(0.962 1)" font-size="44.3" font-weight="bold" text-anchor="middle">PMIC</text>
<text transform="translate(1953.4 4407.3) scale(0.962 1)" font-size="44.3" font-weight="bold" text-anchor="middle">PMMC</text>
<text transform="translate(2085.4 4407.3) scale(0.962 1)" font-size="44.3" font-weight="bold" text-anchor="middle">PMMI</text>
<text transform="translate(2217.4 4407.3) scale(0.962 1)" font-size="44.3" font-weight="bold" text-anchor="middle">PMMM</text>
<text transform="translate(1618.1 4052.25) rotate(-90) scale(0.9287 1)" font-size="49.6" font-weight="bold" text-anchor="middle">mRNA Relative Abundance</text>
</g>
<text transform="translate(120.3 405.5) rotate(-90) scale(0.9191 1)" font-size="128.7" font-weight="bold" text-anchor="middle">CAT</text>
<text transform="translate(124.4 1165.84) rotate(-90) scale(0.962 1)" font-size="128.7" font-weight="bold" text-anchor="middle">SOD<tspan dx="4.9">1</tspan></text>
<g transform="translate(124.4 1165.84) rotate(-90) scale(0.962 1)" fill="#fff" shape-rendering="geometricPrecision"><rect x="112.21" y="-15.19" width="23.93" height="17.19"/><rect x="153.80" y="-15.19" width="22.30" height="17.19"/></g>
<text transform="translate(124.4 2135) rotate(-90) scale(0.9659 1)" font-size="128.7" font-weight="bold" text-anchor="middle">SOD2</text>
<text transform="translate(120.3 3077) rotate(-90) scale(0.9859 1)" font-size="128.7" font-weight="bold" text-anchor="middle">GSS</text>
<text transform="translate(124.8 3985.2) rotate(-90) scale(0.9797 1)" font-size="128.7" font-weight="bold" text-anchor="middle">NFE2L2</text>
</svg>
</body>
</html>
